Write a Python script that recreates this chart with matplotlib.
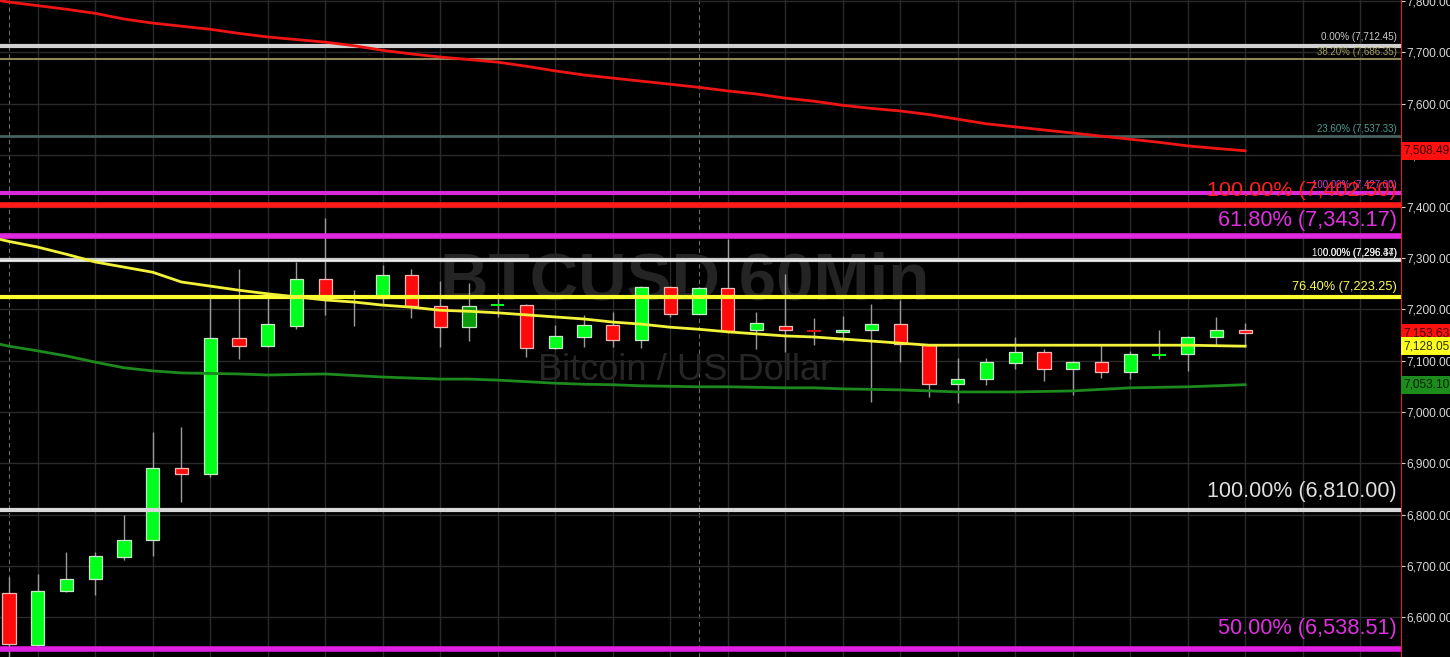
import matplotlib
matplotlib.use("Agg")
import matplotlib.pyplot as plt
import matplotlib.transforms as mtransforms
from matplotlib import font_manager
import numpy as np

# ---------------- data ----------------
opens  = [6648, 6547, 6652, 6675, 6718, 6751, 6891, 6879, 7144, 7128,
          7167, 7259, 7223, 7222, 7266, 7206, 7165, 7207, 7208, 7125,
          7146, 7169, 7140, 7243, 7191, 7241, 7159, 7167, 7159, 7156,
          7159, 7171, 7130, 7054, 7064, 7095, 7117, 7084, 7097, 7078,
          7110, 7113, 7146, 7160]
highs  = [6679, 6685, 6728, 6728, 6800, 6961, 6971, 7230, 7278, 7230,
          7292, 7377, 7237, 7286, 7278, 7255, 7251, 7231, 7210, 7169,
          7189, 7195, 7245, 7245, 7243, 7337, 7195, 7268, 7183, 7187,
          7210, 7218, 7132, 7105, 7105, 7146, 7123, 7099, 7130, 7119,
          7160, 7148, 7185, 7173]
lows   = [6515, 6541, 6650, 6644, 6712, 6720, 6825, 6874, 7103, 7126,
          7161, 7189, 7167, 7208, 7183, 7126, 7138, 7185, 7107, 7123,
          7127, 7127, 7125, 7185, 7190, 7154, 7123, 7117, 7130, 7136,
          7019, 7097, 7029, 7018, 7052, 7084, 7060, 7033, 7066, 7064,
          7103, 7080, 7128, 7130]
closes = [6549, 6652, 6675, 6720, 6751, 6891, 6879, 7144, 7128, 7171,
          7259, 7224, 7222, 7266, 7206, 7165, 7206, 7209, 7125, 7148,
          7169, 7140, 7243, 7191, 7241, 7158, 7173, 7159, 7157, 7160,
          7171, 7132, 7054, 7064, 7097, 7117, 7084, 7097, 7078, 7113,
          7112, 7146, 7160, 7153.63]
dark_green_bars = [16]

# moving averages (first value is the bar before the first visible bar)
ma_yellow = [7345, 7332, 7321, 7307, 7292, 7282, 7272, 7253, 7245, 7237,
             7230, 7224, 7218, 7214, 7208, 7204, 7198, 7196, 7193, 7189,
             7185, 7181, 7175, 7171, 7165, 7161, 7156, 7152, 7148, 7146,
             7142, 7138, 7134, 7130, 7130, 7130, 7130, 7130, 7130, 7130,
             7130, 7130, 7130, 7129, 7128.05]
ma_green = [7140, 7128, 7119, 7109, 7097, 7086, 7080, 7076, 7075, 7074,
            7072, 7073, 7074, 7071, 7068, 7066, 7064, 7064, 7062, 7059,
            7056, 7054, 7053, 7051, 7050, 7049, 7049, 7048, 7047, 7047,
            7045, 7044, 7043, 7041, 7039, 7039, 7039, 7040, 7041, 7044,
            7047, 7048, 7049, 7051, 7053.10]
ma_red = [7807, 7798, 7791, 7784, 7776, 7765, 7757, 7751, 7745, 7737,
          7730, 7725, 7720, 7713, 7704, 7697, 7691, 7686, 7681, 7673,
          7664, 7656, 7650, 7644, 7638, 7632, 7625, 7619, 7611, 7605,
          7597, 7591, 7586, 7579, 7570, 7561, 7555, 7549, 7543, 7537,
          7531, 7525, 7518, 7513, 7508.49]

# Fibonacci / level lines
fib_levels = [7712.45, 7686.35, 7537.33, 7427.00, 7402.50, 7343.17,
              7296.44, 7296.37, 7223.25, 6810.00, 6538.51]
fib_labels = ["0.00% (7,712.45)", "38.20% (7,686.35)", "23.60% (7,537.33)",
              "100.00% (7,427.00)", "100.00% (7,402.50)", "61.80% (7,343.17)",
              "100.00% (7,296.44)", "0.00% (7,296.37)", "76.40% (7,223.25)",
              "100.00% (6,810.00)", "50.00% (6,538.51)"]

price_tags = [7508.49, 7153.63, 7128.05, 7053.10]
tag_labels = ["7,508.49", "7,153.63", "7,128.05", "7,053.10"]

y_ticks = [6600, 6700, 6800, 6900, 7000, 7100, 7200, 7300, 7400, 7500, 7600, 7700, 7800]

title_text = "BTCUSD 60Min"
subtitle_text = "Bitcoin / US Dollar"

# ---------------- styling ----------------
names = {f.name for f in font_manager.fontManager.ttflist}
NARROW = "Liberation Sans Narrow" if "Liberation Sans Narrow" in names else "Liberation Sans"

fib_style = {
    7712.45: dict(color="#d0d0d0", lw=3.0),
    7686.35: dict(color="#8c8758", lw=1.5),
    7537.33: dict(color="#46625f", lw=2.0),
    7427.00: dict(color="#d82ad8", lw=3.0),
    7402.50: dict(color="#ff1a1a", lw=4.0),
    7343.17: dict(color="#e028e0", lw=4.0),
    7296.44: dict(color="#c8c8c8", lw=3.0),
    7296.37: dict(color="#f0f0f0", lw=1.0),
    7223.25: dict(color="#ffff30", lw=3.0),
    6810.00: dict(color="#d8d8d8", lw=3.0),
    6538.51: dict(color="#e020e0", lw=4.0),
}
# (text colour, target width px, baseline offset px)
label_style = [
    ("#c8c8c8", 76, 6),
    ("#a59f5e", 80, 4),
    ("#4f9c92", 80, 4),
    ("#d040d0", 85, 5),
    ("#ff2020", 189, 9),
    ("#e030e0", 179, 10),
    ("#f0f0f0", 85, 4),
    ("#f0f0f0", 74, 4),
    ("#ffff50", 105, 7),
    ("#e0e0e0", 189, 13),
    ("#e030e0", 179, 15),
]
tag_style = [("#ff1010", "#3a0000"), ("#ff1010", "#3a0000"),
             ("#ffff20", "#303000"), ("#1c8c1c", "#002000")]

W, H = 1450, 657
fig = plt.figure(figsize=(W / 100, H / 100), dpi=100, facecolor="black")
ax = fig.add_axes([0, 0, 1401 / W, 1])
ax.set_facecolor("black")

n = len(opens)
x = np.arange(n)
ax.set_xlim(-0.313, 48.42)
ax.set_ylim(6523, 7802)

# grid
ax.set_xticks(np.arange(1, 49, 2))
ax.set_yticks(y_ticks)
ax.grid(True, color="#2a2a2a", lw=1.0, zorder=0)
ax.set_axisbelow(True)
for d in (0, 24):
    ax.axvline(d, color="#6a6a6a", lw=0.8, ls=(0, (4, 3)), zorder=0.5)

# watermark
renderer = fig.canvas.get_renderer()

def fit(t, width_px):
    bb = t.get_window_extent(renderer)
    t.set_fontsize(t.get_fontsize() * width_px / bb.width)

wm1 = ax.text(685 / 1401, 1 - 283 / H, title_text, transform=ax.transAxes,
              ha="center", va="center", color="#242424", fontsize=60,
              fontweight="bold", family=NARROW, zorder=0.6)
fit(wm1, 490)
wm2 = ax.text(685 / 1401, 1 - 371 / H, subtitle_text, transform=ax.transAxes,
              ha="center", va="center", color="#262626", fontsize=30,
              family=NARROW, zorder=0.6)
fit(wm2, 294)

# candles
body_w = 0.46
for i in range(n):
    o, h, l, c = opens[i], highs[i], lows[i], closes[i]
    up = c >= o
    if i in dark_green_bars:
        fc = "#0a9a0a"
    else:
        fc = "#00ff1a" if up else "#ff0a0a"
    ec = "#c8e8c8" if up else "#f0b8b8"
    ax.vlines(i, l, h, color="#9a9a9a", lw=1.0, zorder=2)
    lo, hi = min(o, c), max(o, c)
    if hi - lo < 3:
        ax.hlines((o + c) / 2, i - body_w / 2, i + body_w / 2,
                  color=fc if up else "#d01010", lw=1.5, zorder=2.5)
    else:
        ax.add_patch(plt.Rectangle((i - body_w / 2, lo), body_w, hi - lo,
                                   facecolor=fc, edgecolor=ec, lw=0.9, zorder=2.5))

# level lines
for lvl in fib_levels:
    st = fib_style[lvl]
    ax.axhline(lvl, color=st["color"], lw=st["lw"], zorder=3)

# moving averages
ma_x = np.arange(-1, n)
ax.plot(ma_x, ma_red, color="#ee1414", lw=2.0, zorder=3.2)
ax.plot(ma_x, ma_green, color="#1c8a1c", lw=2.0, zorder=3.2)
ax.plot(ma_x, ma_yellow, color="#f2f23a", lw=2.0, zorder=3.2)

# level labels
blend = mtransforms.blended_transform_factory(ax.transAxes, ax.transData)
for lvl, lab, (col, wpx, off) in zip(fib_levels, fib_labels, label_style):
    t = ax.annotate(lab, xy=(1, lvl), xycoords=blend, xytext=(-4, off),
                    textcoords="offset pixels", ha="right", va="baseline",
                    color=col, fontsize=10, family=NARROW, zorder=4)
    fit(t, wpx)

# axis styling
ax.yaxis.tick_right()
ax.tick_params(axis="y", colors="#d8d8d8", labelsize=8.6, length=3, width=0.8,
               pad=1)
for lab in ax.get_yticklabels():
    lab.set_family(NARROW)
ax.set_yticklabels([f"{v:,.2f}" for v in y_ticks], family=NARROW)
ax.tick_params(axis="x", length=0, labelbottom=False)
for s in ("top", "bottom", "left"):
    ax.spines[s].set_visible(False)
ax.spines["right"].set_color("#e02020")
ax.spines["right"].set_linewidth(0.8)

# price tags on the axis
for val, lab, (bg, fg) in zip(price_tags, tag_labels, tag_style):
    t = ax.text(1.002, val, lab, transform=blend, ha="left", va="center",
                color=fg, fontsize=8.6, family=NARROW, zorder=6, clip_on=False,
                bbox=dict(boxstyle="square,pad=0.25", fc=bg, ec="none"))

fig.savefig("out.png", dpi=100, facecolor="black")
